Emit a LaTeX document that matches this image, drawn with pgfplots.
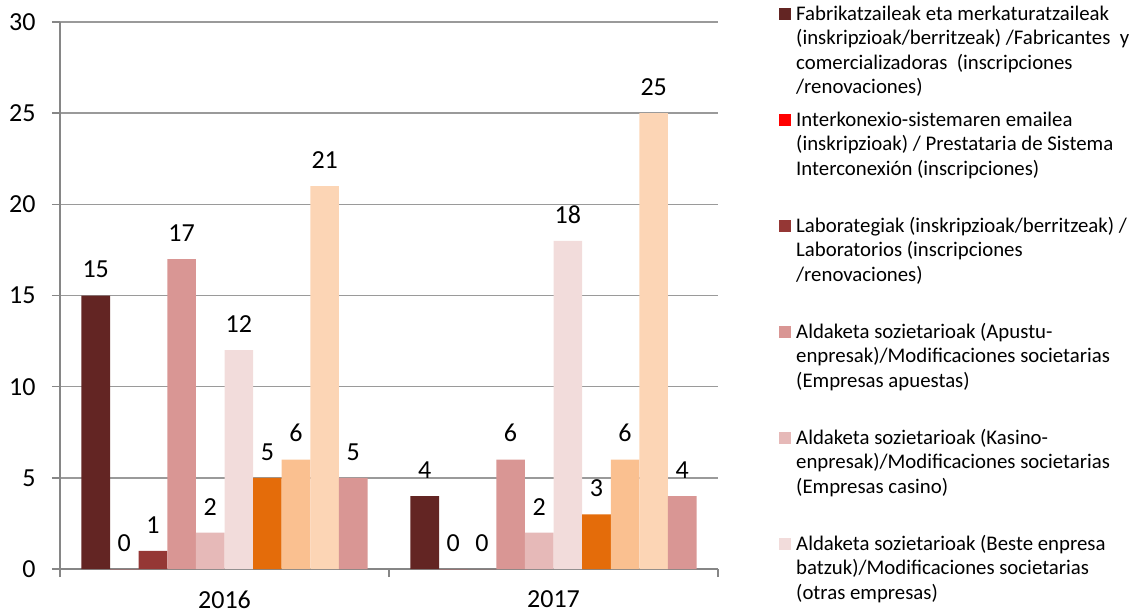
\documentclass[border=0pt]{standalone}
\usepackage{fontspec}
\setmainfont{Carlito}
\usepackage{pgfplots}
\pgfplotsset{compat=1.18}
\definecolor{c1}{HTML}{632523}
\definecolor{c2}{HTML}{FF0000}
\definecolor{c3}{HTML}{953735}
\definecolor{c4}{HTML}{D99694}
\definecolor{c5}{HTML}{E6B9B8}
\definecolor{c6}{HTML}{F2DCDB}
\definecolor{c7}{HTML}{E46C0A}
\definecolor{c8}{HTML}{FAC090}
\definecolor{c9}{HTML}{FCD5B5}
\definecolor{c10}{HTML}{D99694}
\definecolor{gridgray}{HTML}{9A9A9A}
\definecolor{axisgray}{HTML}{868686}
\newcommand{\legA}[1]{\parbox[t]{400pt}{\strut #1\strut}}
\begin{document}
\begin{tikzpicture}
\useasboundingbox (0,0) rectangle (1148pt,614pt);
\begin{axis}[
  at={(60pt,45pt)}, anchor=south west,
  width=658pt, height=547pt, scale only axis,
  /pgf/number format/assume math mode=true,
  ybar, bar width=0.087,
  xmin=-0.5, xmax=1.5, ymin=0, ymax=30,
  enlarge x limits=false, enlarge y limits=false,
  clip=false,
  ytick={0,5,...,30},
  xtick={-0.5,0.5,1.5}, xticklabels={},
  extra x ticks={0,1}, extra x tick labels={2016,2017},
  extra x tick style={major tick length=0pt, grid=none},
  axis lines=left,
  axis line style={-, draw=axisgray, line width=1.5pt},
  tick align=outside, major tick length=8pt,
  tick style={draw=axisgray, line width=1.5pt},
  ymajorgrids, major grid style={draw=gridgray, line width=1.5pt},
  ticklabel style={font=\fontsize{26}{30}\selectfont, text=black},
  xticklabel style={yshift=-18pt},
  yticklabel style={xshift=-13pt},
  nodes near coords,
  nodes near coords style={font=\fontsize{26}{30}\selectfont, text=black, anchor=south, yshift=14pt},
  every axis plot post/.append style={legend image code/.code={%
      \path[draw=none, fill=none] (0pt,-80.85pt) rectangle (0pt,17.15pt);
      \fill[##1] (0pt,0pt) rectangle (12pt,12pt);}},
  legend cell align=left,
  legend style={draw=none, fill=none, at={(1.09271,1.035)}, anchor=north west,
    inner sep=0pt, row sep=8pt, column sep=5pt,
    nodes={inner sep=0pt}, cells={anchor=base west},
    font=\fontsize{20.8}{24.5}\selectfont},
]
\addplot[fill=c1, draw=none, bar shift=-0.3915] coordinates {(0,15) (1,4)};
\addlegendentry{\legA{Fabrikatzaileak eta merkaturatzaileak\par (inskripzioak/berritzeak) /Fabricantes \ y\par comercializadoras \ (inscripciones\par /renovaciones)}}
\addplot[fill=c2, draw=none, bar shift=-0.3045] coordinates {(0,0) (1,0)};
\addlegendentry{\legA{Interkonexio-sistemaren emailea\par (inskripzioak) / Prestataria de Sistema\par Interconexión (inscripciones)}}
\addplot[fill=c3, draw=none, bar shift=-0.2175] coordinates {(0,1) (1,0)};
\addlegendentry{\legA{Laborategiak (inskripzioak/berritzeak) /\par Laboratorios (inscripciones\par /renovaciones)}}
\addplot[fill=c4, draw=none, bar shift=-0.1305] coordinates {(0,17) (1,6)};
\addlegendentry{\legA{Aldaketa sozietarioak (Apustu-\par enpresak)/Modificaciones societarias\par (Empresas apuestas)}}
\addplot[fill=c5, draw=none, bar shift=-0.0435] coordinates {(0,2) (1,2)};
\addlegendentry{\legA{Aldaketa sozietarioak (Kasino-\par enpresak)/Modificaciones societarias\par (Empresas casino)}}
\addplot[fill=c6, draw=none, bar shift=0.0435] coordinates {(0,12) (1,18)};
\addlegendentry{\legA{Aldaketa sozietarioak (Beste enpresa\par batzuk)/Modificaciones societarias\par (otras empresas)}}
\addplot[fill=c7, draw=none, bar shift=0.1305, forget plot] coordinates {(0,5) (1,3)};
\addplot[fill=c8, draw=none, bar shift=0.2175, forget plot] coordinates {(0,6) (1,6)};
\addplot[fill=c9, draw=none, bar shift=0.3045, forget plot] coordinates {(0,21) (1,25)};
\addplot[fill=c10, draw=none, bar shift=0.3915, forget plot] coordinates {(0,5) (1,4)};
\end{axis}
\end{tikzpicture}
\end{document}
